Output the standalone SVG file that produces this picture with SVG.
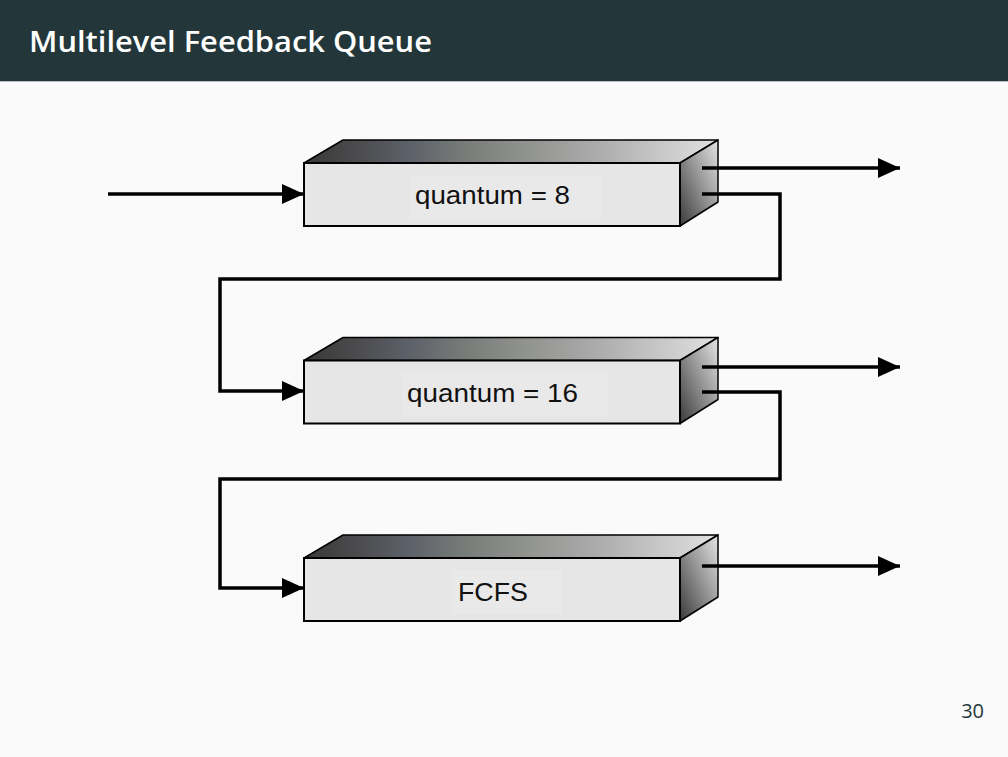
<svg xmlns="http://www.w3.org/2000/svg" width="1008" height="757" viewBox="0 0 1008 757">
<defs>
<linearGradient id="topg" x1="0" y1="0" x2="1" y2="0">
<stop offset="0" stop-color="#383838"/>
<stop offset="0.12" stop-color="#4a4a4c"/>
<stop offset="0.25" stop-color="#5c6068"/>
<stop offset="0.4" stop-color="#7a7e7a"/>
<stop offset="0.55" stop-color="#939591"/>
<stop offset="0.7" stop-color="#aaaaaa"/>
<stop offset="0.85" stop-color="#c6c6c6"/>
<stop offset="1" stop-color="#e0e0e0"/>
</linearGradient>
<linearGradient id="sideg" x1="1" y1="0" x2="0" y2="1">
<stop offset="0" stop-color="#e4e4e4"/>
<stop offset="0.45" stop-color="#9a9a9a"/>
<stop offset="1" stop-color="#3a3a3a"/>
</linearGradient>
<marker id="ah" viewBox="0 0 22 20" refX="22" refY="10" markerWidth="22" markerHeight="20" markerUnits="userSpaceOnUse" orient="auto">
<path d="M0,0 L22,10 L0,20 Z" fill="#000"/>
</marker>
<g id="box">
<polygon points="304,163 343,140 718,140 680,163" fill="url(#topg)" stroke="#000" stroke-width="1.5" stroke-linejoin="round"/>
<polygon points="680,163 718,140 718,202 680,226" fill="url(#sideg)" stroke="#000" stroke-width="1.5" stroke-linejoin="round"/>
<rect x="304" y="163" width="376" height="63" fill="#e6e6e6" stroke="#000" stroke-width="2"/>
</g>
</defs>
<style>
.lbl{font-family:"Liberation Sans",Arial,sans-serif;font-size:25px;fill:#111;}
.conn{fill:none;stroke:#000;stroke-width:3.5;stroke-linejoin:miter;}
</style>
<rect x="0" y="0" width="1008" height="757" fill="#fafafa"/>
<rect x="0" y="0" width="1008" height="81" fill="#23373b"/>
<line x1="0" y1="81.5" x2="1008" y2="81.5" stroke="#b8c0c2" stroke-width="1"/>
<text x="29" y="52" font-family="'Open Sans','DejaVu Sans',sans-serif" font-weight="600" font-size="28" fill="#ffffff" textLength="403" lengthAdjust="spacingAndGlyphs">Multilevel Feedback Queue</text>

<g id="queue1">
<use href="#box"/>
<rect x="410" y="175" width="192" height="44" fill="#e9e9e9"/>
<text class="lbl" x="415" y="204" textLength="155" lengthAdjust="spacingAndGlyphs">quantum = 8</text>
</g>
<g id="queue2" transform="translate(0,197.5)">
<use href="#box"/>
<rect x="402" y="175" width="206" height="44" fill="#e9e9e9"/>
<text class="lbl" x="407" y="204" textLength="171" lengthAdjust="spacingAndGlyphs">quantum = 16</text>
</g>
<g id="queue3" transform="translate(0,395)">
<use href="#box"/>
<rect x="452" y="175" width="110" height="44" fill="#e9e9e9"/>
<text class="lbl" x="458" y="206" textLength="70" lengthAdjust="spacingAndGlyphs">FCFS</text>
</g>

<g id="connectors">
<line class="conn" x1="108" y1="194" x2="304" y2="194" marker-end="url(#ah)"/>
<line class="conn" x1="702" y1="168" x2="900" y2="168" marker-end="url(#ah)"/>
<polyline class="conn" points="702,194 780,194 780,279 220,279 220,391 304,391" marker-end="url(#ah)"/>
<line class="conn" x1="702" y1="367" x2="900" y2="367" marker-end="url(#ah)"/>
<polyline class="conn" points="702,392 780,392 780,479 220,479 220,588 304,588" marker-end="url(#ah)"/>
<line class="conn" x1="702" y1="566" x2="900" y2="566" marker-end="url(#ah)"/>
</g>

<text x="984" y="718" text-anchor="end" font-family="'Open Sans','DejaVu Sans',sans-serif" font-size="20" fill="#23373b">30</text>
</svg>
